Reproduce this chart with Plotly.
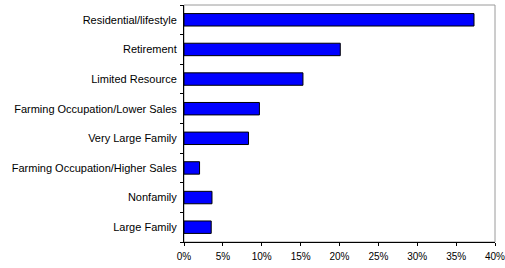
import plotly.graph_objects as go

categories = ["Residential/lifestyle", "Retirement", "Limited Resource",
              "Farming Occupation/Lower Sales", "Very Large Family",
              "Farming Occupation/Higher Sales", "Nonfamily", "Large Family"]
values = [0.373, 0.201, 0.153, 0.097, 0.083, 0.020, 0.036, 0.035]
tick_vals = [0, 0.05, 0.10, 0.15, 0.20, 0.25, 0.30, 0.35, 0.40]
tick_text = ["0%", "5%", "10%", "15%", "20%", "25%", "30%", "35%", "40%"]

fig = go.Figure(go.Bar(
    x=values, y=categories, orientation="h", width=0.42,
    marker=dict(color="#0000FF", line=dict(color="#000000", width=1)),
    hoverinfo="skip",
))

fig.update_layout(
    width=505, height=268,
    margin=dict(l=184, r=10, t=5, b=26, autoexpand=False),
    paper_bgcolor="white", plot_bgcolor="white",
    font=dict(family="Liberation Sans, Arial, sans-serif", size=11, color="black"),
    showlegend=False,
    shapes=[dict(type="rect", xref="paper", yref="paper", x0=0, x1=1, y0=0, y1=1,
                 line=dict(color="#9a9a9a", width=1), layer="below")],
)
fig.update_xaxes(
    range=[0, 0.40], tickvals=tick_vals, ticktext=tick_text,
    showgrid=False, zeroline=False, showline=True, linecolor="black", linewidth=1,
    ticks="outside", ticklen=3, tickcolor="black", automargin=False,
    ticklabeloverflow="allow", tickfont=dict(size=10), ticklabelstandoff=2,
)
fig.update_yaxes(
    categoryorder="array", categoryarray=categories[::-1], type="category",
    autorange=False, range=[-0.5, 7.5],
    showgrid=False, zeroline=False, showline=True, linecolor="black", linewidth=1,
    ticks="outside", ticklen=3, tickcolor="black", tickson="boundaries",
    automargin=False, ticklabelstandoff=4,
)

fig.write_html("out.html", config={"displayModeBar": False},
               post_script="document.body.style.margin='0';document.body.style.overflow='hidden';")
